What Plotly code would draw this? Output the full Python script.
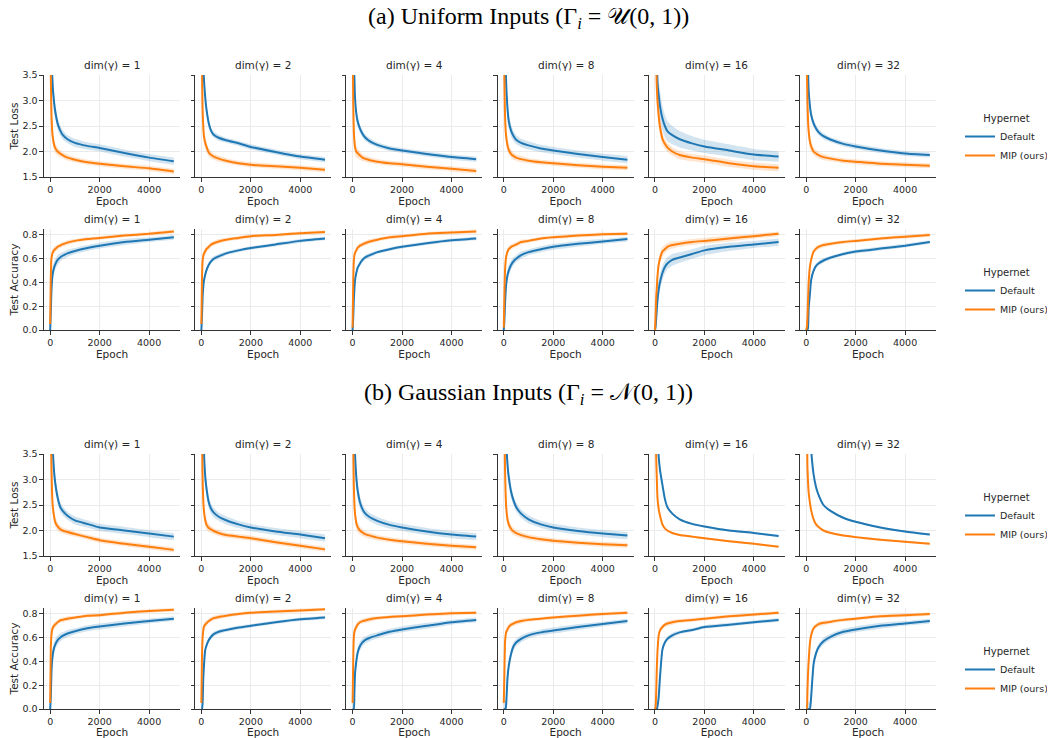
import plotly.graph_objects as go

# ---------------- data ----------------
EPOCHS = [0, 25, 50, 75, 100, 150, 200, 300, 400, 500, 700, 1000, 1500, 2000, 3000, 4000, 5000]
DIMS = [1, 2, 4, 8, 16, 32]

# Uniform inputs - test loss
U_L_D1 = [6.0, 5.0, 4.1, 3.6, 3.3, 3.0, 2.8, 2.55, 2.42, 2.33, 2.24, 2.17, 2.11, 2.07, 1.97, 1.88, 1.81]
U_L_M1 = [5.0, 3.5, 2.75, 2.45, 2.3, 2.15, 2.07, 2.0, 1.96, 1.93, 1.88, 1.84, 1.79, 1.76, 1.71, 1.67, 1.61]
U_L_D2 = [6.0, 5.2, 4.4, 3.8, 3.45, 3.1, 2.85, 2.55, 2.4, 2.33, 2.27, 2.22, 2.16, 2.09, 1.99, 1.9, 1.84]
U_L_M2 = [5.0, 3.6, 2.82, 2.5, 2.32, 2.18, 2.1, 1.98, 1.93, 1.9, 1.86, 1.82, 1.77, 1.74, 1.71, 1.68, 1.64]
U_L_D4 = [6.0, 4.8, 3.9, 3.4, 3.05, 2.75, 2.6, 2.45, 2.35, 2.28, 2.2, 2.13, 2.06, 2.02, 1.95, 1.89, 1.85]
U_L_M4 = [4.5, 3.0, 2.4, 2.2, 2.08, 2.0, 1.97, 1.92, 1.88, 1.86, 1.83, 1.8, 1.77, 1.75, 1.7, 1.66, 1.62]
U_L_D8 = [6.0, 5.0, 4.2, 3.7, 3.3, 2.85, 2.6, 2.4, 2.3, 2.23, 2.17, 2.12, 2.06, 2.02, 1.95, 1.89, 1.84]
U_L_M8 = [5.0, 3.4, 2.7, 2.42, 2.28, 2.12, 2.03, 1.95, 1.91, 1.88, 1.85, 1.82, 1.79, 1.77, 1.73, 1.7, 1.68]
U_L_D16 = [6.0, 5.2, 4.4, 3.8, 3.35, 3.1, 2.9, 2.65, 2.5, 2.4, 2.32, 2.24, 2.16, 2.1, 2.02, 1.94, 1.9]
U_L_M16 = [6.0, 4.6, 3.7, 3.25, 3.0, 2.7, 2.49, 2.25, 2.15, 2.08, 2.0, 1.93, 1.88, 1.85, 1.77, 1.71, 1.68]
U_L_D32 = [6.0, 5.0, 4.2, 3.6, 3.2, 2.9, 2.72, 2.55, 2.45, 2.38, 2.3, 2.23, 2.15, 2.1, 2.02, 1.96, 1.93]
U_L_M32 = [5.5, 3.8, 3.0, 2.6, 2.4, 2.2, 2.1, 2.0, 1.96, 1.93, 1.89, 1.86, 1.82, 1.8, 1.76, 1.74, 1.72]

# Uniform inputs - test accuracy
U_A_D1 = [0.0, 0.15, 0.33, 0.42, 0.47, 0.52, 0.55, 0.59, 0.61, 0.625, 0.645, 0.665, 0.69, 0.71, 0.74, 0.76, 0.78]
U_A_M1 = [0.05, 0.45, 0.6, 0.63, 0.65, 0.67, 0.68, 0.7, 0.71, 0.72, 0.735, 0.75, 0.765, 0.775, 0.795, 0.81, 0.83]
U_A_D2 = [0.0, 0.12, 0.28, 0.36, 0.41, 0.46, 0.5, 0.55, 0.58, 0.6, 0.62, 0.645, 0.67, 0.69, 0.72, 0.75, 0.77]
U_A_M2 = [0.05, 0.45, 0.58, 0.62, 0.64, 0.66, 0.68, 0.7, 0.72, 0.73, 0.745, 0.76, 0.775, 0.79, 0.8, 0.815, 0.825]
U_A_D4 = [0.0, 0.1, 0.25, 0.35, 0.42, 0.48, 0.52, 0.56, 0.59, 0.61, 0.63, 0.655, 0.68, 0.7, 0.73, 0.755, 0.77]
U_A_M4 = [0.02, 0.4, 0.58, 0.63, 0.65, 0.67, 0.69, 0.71, 0.72, 0.73, 0.745, 0.76, 0.78, 0.79, 0.81, 0.82, 0.83]
U_A_D8 = [0.0, 0.08, 0.22, 0.32, 0.39, 0.46, 0.5, 0.55, 0.58, 0.6, 0.63, 0.655, 0.68, 0.7, 0.725, 0.745, 0.765]
U_A_M8 = [0.02, 0.3, 0.5, 0.58, 0.62, 0.66, 0.68, 0.7, 0.71, 0.72, 0.74, 0.75, 0.77, 0.78, 0.795, 0.805, 0.81]
U_A_D16 = [0.0, 0.03, 0.1, 0.18, 0.25, 0.34, 0.4, 0.48, 0.53, 0.56, 0.59, 0.61, 0.64, 0.67, 0.7, 0.72, 0.74]
U_A_M16 = [0.0, 0.12, 0.28, 0.36, 0.45, 0.55, 0.6, 0.66, 0.68, 0.7, 0.715, 0.725, 0.74, 0.75, 0.77, 0.79, 0.81]
U_A_D32 = [0.0, 0.0, 0.0, 0.02, 0.18, 0.3, 0.42, 0.5, 0.54, 0.56, 0.585, 0.61, 0.64, 0.66, 0.685, 0.71, 0.74]
U_A_M32 = [0.0, 0.02, 0.1, 0.25, 0.4, 0.53, 0.59, 0.66, 0.685, 0.7, 0.715, 0.725, 0.74, 0.75, 0.77, 0.785, 0.8]

# Gaussian inputs - test loss
G_L_D1 = [7.0, 6.0, 5.0, 4.2, 3.7, 3.2, 2.95, 2.65, 2.47, 2.39, 2.29, 2.2, 2.13, 2.06, 2.0, 1.94, 1.88]
G_L_M1 = [6.0, 4.2, 3.3, 2.75, 2.5, 2.3, 2.17, 2.08, 2.03, 2.0, 1.97, 1.93, 1.87, 1.81, 1.74, 1.68, 1.62]
G_L_D2 = [7.0, 6.0, 5.0, 4.2, 3.6, 3.1, 2.85, 2.55, 2.42, 2.35, 2.27, 2.2, 2.12, 2.06, 1.98, 1.92, 1.85]
G_L_M2 = [6.0, 4.0, 3.0, 2.6, 2.4, 2.22, 2.12, 2.05, 2.02, 1.99, 1.95, 1.91, 1.88, 1.85, 1.77, 1.7, 1.63]
G_L_D4 = [7.0, 5.8, 4.7, 4.0, 3.5, 3.05, 2.8, 2.55, 2.42, 2.34, 2.26, 2.19, 2.11, 2.06, 1.98, 1.92, 1.88]
G_L_M4 = [6.0, 3.8, 2.9, 2.5, 2.32, 2.15, 2.07, 2.0, 1.96, 1.93, 1.9, 1.86, 1.82, 1.79, 1.74, 1.7, 1.67]
G_L_D8 = [7.0, 6.0, 5.0, 4.3, 3.8, 3.3, 3.05, 2.75, 2.58, 2.46, 2.33, 2.22, 2.12, 2.06, 1.99, 1.94, 1.9]
G_L_M8 = [6.0, 4.2, 3.2, 2.7, 2.45, 2.22, 2.12, 2.03, 1.98, 1.95, 1.91, 1.87, 1.83, 1.8, 1.76, 1.73, 1.71]
G_L_D16 = [8.0, 6.5, 5.2, 4.5, 4.0, 3.45, 3.2, 2.9, 2.62, 2.46, 2.33, 2.22, 2.13, 2.08, 2.0, 1.95, 1.89]
G_L_M16 = [6.5, 4.5, 3.4, 3.0, 2.65, 2.42, 2.3, 2.12, 2.04, 2.0, 1.95, 1.91, 1.88, 1.85, 1.79, 1.74, 1.68]
G_L_D32 = [9.0, 8.0, 7.0, 6.0, 5.2, 4.2, 3.6, 3.1, 2.85, 2.7, 2.5, 2.38, 2.25, 2.17, 2.06, 1.98, 1.92]
G_L_M32 = [6.5, 4.2, 3.25, 2.95, 2.75, 2.55, 2.4, 2.22, 2.12, 2.07, 2.0, 1.95, 1.9, 1.87, 1.82, 1.78, 1.74]

# Gaussian inputs - test accuracy
G_A_D1 = [0.0, 0.1, 0.3, 0.4, 0.45, 0.51, 0.54, 0.58, 0.6, 0.615, 0.635, 0.655, 0.68, 0.695, 0.72, 0.74, 0.76]
G_A_M1 = [0.05, 0.5, 0.62, 0.66, 0.68, 0.7, 0.71, 0.73, 0.745, 0.75, 0.76, 0.77, 0.785, 0.79, 0.81, 0.825, 0.835]
G_A_D2 = [0.0, 0.0, 0.05, 0.25, 0.35, 0.49, 0.53, 0.58, 0.61, 0.63, 0.65, 0.665, 0.685, 0.7, 0.73, 0.755, 0.77]
G_A_M2 = [0.05, 0.45, 0.6, 0.66, 0.69, 0.71, 0.72, 0.74, 0.755, 0.765, 0.775, 0.785, 0.8, 0.81, 0.82, 0.83, 0.84]
G_A_D4 = [0.0, 0.0, 0.0, 0.15, 0.3, 0.4, 0.47, 0.53, 0.56, 0.58, 0.6, 0.62, 0.65, 0.67, 0.7, 0.73, 0.75]
G_A_M4 = [0.05, 0.4, 0.6, 0.65, 0.67, 0.69, 0.71, 0.73, 0.74, 0.745, 0.755, 0.765, 0.775, 0.78, 0.795, 0.805, 0.81]
G_A_D8 = [0.0, 0.0, 0.0, 0.0, 0.05, 0.26, 0.36, 0.47, 0.53, 0.56, 0.59, 0.62, 0.645, 0.66, 0.69, 0.715, 0.74]
G_A_M8 = [0.05, 0.3, 0.56, 0.62, 0.65, 0.67, 0.69, 0.71, 0.72, 0.73, 0.74, 0.75, 0.76, 0.77, 0.785, 0.8, 0.81]
G_A_D16 = [0.0, 0.0, 0.0, 0.0, 0.02, 0.1, 0.26, 0.5, 0.56, 0.59, 0.62, 0.645, 0.665, 0.69, 0.71, 0.73, 0.75]
G_A_M16 = [0.0, 0.02, 0.15, 0.35, 0.48, 0.62, 0.66, 0.69, 0.71, 0.72, 0.73, 0.74, 0.75, 0.76, 0.78, 0.795, 0.81]
G_A_D32 = [0.0, 0.0, 0.0, 0.0, 0.0, 0.0, 0.1, 0.38, 0.47, 0.52, 0.57, 0.61, 0.65, 0.67, 0.7, 0.72, 0.74]
G_A_M32 = [0.0, 0.0, 0.15, 0.3, 0.4, 0.55, 0.62, 0.68, 0.7, 0.715, 0.725, 0.735, 0.75, 0.76, 0.78, 0.79, 0.8]

# band half-widths (spread across runs)
LOSS_SPREAD_S = [0.3, 0.3, 0.25, 0.2, 0.15, 0.12, 0.1, 0.08, 0.07, 0.06, 0.06, 0.05, 0.05, 0.05, 0.05, 0.05, 0.05]
LOSS_SPREAD_M = [0.5, 0.45, 0.4, 0.3, 0.25, 0.2, 0.15, 0.12, 0.1, 0.09, 0.08, 0.08, 0.07, 0.07, 0.07, 0.07, 0.07]
LOSS_SPREAD_L = [0.6, 0.6, 0.5, 0.45, 0.4, 0.35, 0.3, 0.25, 0.22, 0.2, 0.18, 0.16, 0.14, 0.13, 0.12, 0.11, 0.1]
LOSS_SPREAD_XS = [0.1, 0.1, 0.08, 0.06, 0.05, 0.04, 0.03, 0.03, 0.025, 0.02, 0.02, 0.02, 0.02, 0.02, 0.02, 0.02, 0.02]
ACC_SPREAD_S = [0.02, 0.05, 0.05, 0.04, 0.03, 0.03, 0.025, 0.02, 0.02, 0.02, 0.02, 0.015, 0.015, 0.015, 0.015, 0.015, 0.015]
ACC_SPREAD_M = [0.03, 0.08, 0.08, 0.07, 0.06, 0.05, 0.045, 0.04, 0.035, 0.03, 0.03, 0.025, 0.025, 0.025, 0.025, 0.02, 0.02]
ACC_SPREAD_L = [0.05, 0.12, 0.12, 0.1, 0.09, 0.08, 0.07, 0.06, 0.055, 0.05, 0.05, 0.045, 0.04, 0.04, 0.035, 0.03, 0.03]

ROWS = [
    dict(label="Test Loss", kind="loss",
         default=[U_L_D1, U_L_D2, U_L_D4, U_L_D8, U_L_D16, U_L_D32],
         mip=[U_L_M1, U_L_M2, U_L_M4, U_L_M8, U_L_M16, U_L_M32],
         dspread=[LOSS_SPREAD_M, LOSS_SPREAD_S, LOSS_SPREAD_S, LOSS_SPREAD_M, LOSS_SPREAD_L, LOSS_SPREAD_S],
         mspread=[LOSS_SPREAD_S, LOSS_SPREAD_S, LOSS_SPREAD_S, LOSS_SPREAD_S, LOSS_SPREAD_M, LOSS_SPREAD_S]),
    dict(label="Test Accuracy", kind="acc",
         default=[U_A_D1, U_A_D2, U_A_D4, U_A_D8, U_A_D16, U_A_D32],
         mip=[U_A_M1, U_A_M2, U_A_M4, U_A_M8, U_A_M16, U_A_M32],
         dspread=[ACC_SPREAD_M, ACC_SPREAD_S, ACC_SPREAD_S, ACC_SPREAD_M, ACC_SPREAD_L, ACC_SPREAD_S],
         mspread=[ACC_SPREAD_S, ACC_SPREAD_S, ACC_SPREAD_S, ACC_SPREAD_S, ACC_SPREAD_M, ACC_SPREAD_S]),
    dict(label="Test Loss", kind="loss",
         default=[G_L_D1, G_L_D2, G_L_D4, G_L_D8, G_L_D16, G_L_D32],
         mip=[G_L_M1, G_L_M2, G_L_M4, G_L_M8, G_L_M16, G_L_M32],
         dspread=[LOSS_SPREAD_M, LOSS_SPREAD_M, LOSS_SPREAD_M, LOSS_SPREAD_M, LOSS_SPREAD_XS, LOSS_SPREAD_XS],
         mspread=[LOSS_SPREAD_S, LOSS_SPREAD_S, LOSS_SPREAD_S, LOSS_SPREAD_S, LOSS_SPREAD_XS, LOSS_SPREAD_XS]),
    dict(label="Test Accuracy", kind="acc",
         default=[G_A_D1, G_A_D2, G_A_D4, G_A_D8, G_A_D16, G_A_D32],
         mip=[G_A_M1, G_A_M2, G_A_M4, G_A_M8, G_A_M16, G_A_M32],
         dspread=[ACC_SPREAD_M, ACC_SPREAD_S, ACC_SPREAD_M, ACC_SPREAD_M, ACC_SPREAD_S, ACC_SPREAD_M],
         mspread=[ACC_SPREAD_S, ACC_SPREAD_S, ACC_SPREAD_S, ACC_SPREAD_S, ACC_SPREAD_S, ACC_SPREAD_S]),
]

LOSS_TICKS = [1.5, 2.0, 2.5, 3.0, 3.5]
ACC_TICKS = [0.0, 0.2, 0.4, 0.6, 0.8]
EPOCH_TICKS = [0, 2000, 4000]
SECTION_TITLES = ["(a) Uniform Inputs (Γ<sub><i>i</i></sub> = 𝒰(0, 1))",
                  "(b) Gaussian Inputs (Γ<sub><i>i</i></sub> = 𝒩(0, 1))"]

# ---------------- styling / layout ----------------
PAGE_OFF = 8                      # default body margin of the html page
W, H = 1055 - PAGE_OFF, 738 - PAGE_OFF


def xp(px):
    return (px - PAGE_OFF) / W


def yp(py):
    return 1 - (py - PAGE_OFF) / H


COLORS = {"Default": "#1f77b4", "MIP (ours)": "#ff7f0e"}
FILLS = {"Default": "rgba(31,119,180,0.2)", "MIP (ours)": "rgba(255,127,14,0.2)"}
FONT = "DejaVu Sans"
TXT = "#262626"
ROW_PX = [(75, 177), (229, 330), (454, 556), (608, 709)]
COL_LEFT0, COL_PITCH, COL_W = 44, 151.2, 136
SMOOTH = dict(shape="spline", smoothing=0.5)

fig = go.Figure()
layout = {}
annotations = []

for r, row in enumerate(ROWS):
    top, bot = ROW_PX[r]
    for c in range(6):
        k = r * 6 + c + 1
        xa = "x" if k == 1 else f"x{k}"
        ya = "y" if k == 1 else f"y{k}"
        left = COL_LEFT0 + c * COL_PITCH
        for name, means, spreads in (("Default", row["default"][c], row["dspread"][c]),
                                     ("MIP (ours)", row["mip"][c], row["mspread"][c])):
            upper = [m + s for m, s in zip(means, spreads)]
            lower = [max(m - s, 0.0) if row["kind"] == "acc" else m - s for m, s in zip(means, spreads)]
            fig.add_trace(go.Scatter(x=EPOCHS, y=upper, mode="lines", line=dict(width=0, **SMOOTH),
                                     xaxis=xa, yaxis=ya, showlegend=False, hoverinfo="skip"))
            fig.add_trace(go.Scatter(x=EPOCHS, y=lower, mode="lines", line=dict(width=0, **SMOOTH),
                                     fill="tonexty", fillcolor=FILLS[name],
                                     xaxis=xa, yaxis=ya, showlegend=False, hoverinfo="skip"))
        for name, means in (("Default", row["default"][c]), ("MIP (ours)", row["mip"][c])):
            fig.add_trace(go.Scatter(x=EPOCHS, y=means, mode="lines", name=name,
                                     line=dict(color=COLORS[name], width=2, **SMOOTH),
                                     xaxis=xa, yaxis=ya, showlegend=(c == 0),
                                     legend="legend" if r == 0 else f"legend{r + 1}"))
        xkey = "xaxis" if k == 1 else f"xaxis{k}"
        ykey = "yaxis" if k == 1 else f"yaxis{k}"
        layout[xkey] = dict(domain=[xp(left), xp(left + COL_W)], anchor=ya,
                            range=[-250, 5250], tickvals=EPOCH_TICKS,
                            ticktext=[str(t) for t in EPOCH_TICKS],
                            showgrid=True, gridcolor="#ebebeb", gridwidth=1, zeroline=False,
                            showline=True, linecolor="#333333", linewidth=1.1,
                            ticks="outside", ticklen=3.5, tickcolor="#333333",
                            tickfont=dict(family=FONT, size=9.5, color=TXT), automargin=False,
                            title=dict(text="Epoch", font=dict(family=FONT, size=10.5, color=TXT), standoff=0))
        if row["kind"] == "loss":
            yr, tv, tt = [1.5, 3.5], LOSS_TICKS, [f"{t:.1f}" for t in LOSS_TICKS]
        else:
            yr, tv, tt = [0.0, 0.85], ACC_TICKS, [f"{t:.1f}" for t in ACC_TICKS]
        layout[ykey] = dict(domain=[yp(bot), yp(top)], anchor=xa, range=yr,
                            tickvals=tv, ticktext=tt, showticklabels=(c == 0),
                            showgrid=True, gridcolor="#ebebeb", gridwidth=1, zeroline=False,
                            showline=True, linecolor="#333333", linewidth=1.1,
                            ticks="outside", ticklen=3.5, tickcolor="#333333",
                            tickfont=dict(family=FONT, size=9.5, color=TXT), automargin=False)
        if c == 0:
            layout[ykey]["title"] = dict(text=row["label"], font=dict(family=FONT, size=10.5, color=TXT), standoff=2)
        annotations.append(dict(text=f"dim(γ) = {DIMS[c]}", x=xp(left + COL_W / 2), y=yp(top - 2),
                                xref="paper", yref="paper", xanchor="center", yanchor="bottom",
                                showarrow=False, font=dict(family=FONT, size=10.5, color=TXT)))
    lkey = "legend" if r == 0 else f"legend{r + 1}"
    layout[lkey] = dict(x=xp(960), y=yp(top + 34), xanchor="left", yanchor="top",
                        bgcolor="rgba(0,0,0,0)", itemwidth=30, traceorder="normal",
                        title=dict(text="Hypernet", side="top center",
                                   font=dict(family=FONT, size=10, color=TXT)),
                        font=dict(family=FONT, size=9.5, color=TXT), tracegroupgap=0)

for title, ypx in zip(SECTION_TITLES, [18, 394]):
    annotations.append(dict(text=title, x=xp(528), y=yp(ypx), xref="paper", yref="paper",
                            xanchor="center", yanchor="middle", showarrow=False,
                            font=dict(family="Liberation Serif", size=24, color="black")))

fig.update_layout(**layout)
fig.update_layout(width=W, height=H, margin=dict(l=0, r=0, t=0, b=0, pad=0, autoexpand=False),
                  paper_bgcolor="white", plot_bgcolor="white",
                  annotations=annotations, showlegend=True)
fig.write_html("out.html")
